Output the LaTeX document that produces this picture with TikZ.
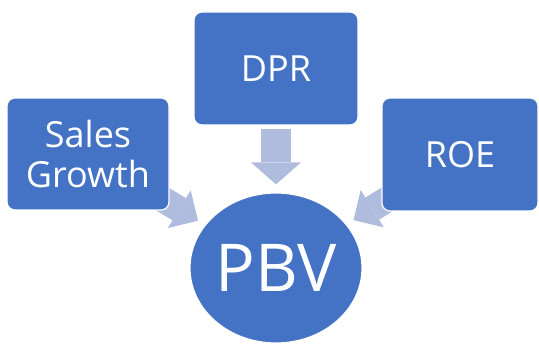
\documentclass[tikz,border=0pt]{standalone}
\usepackage{fontspec}
\setmainfont{Open Sans}
\usetikzlibrary{arrows.meta,shapes,backgrounds}
\definecolor{boxblue}{RGB}{68,114,196}
\definecolor{arrowblue}{RGB}{176,188,222}

\begin{document}
\begin{tikzpicture}[x=1pt,y=-1pt,
        factor/.style={rectangle, rounded corners=8pt, fill=boxblue, draw=white, line width=1.2pt,
            text=white, align=center, inner sep=0pt, font=\fontsize{36}{40}\selectfont},
        result/.style={ellipse, fill=boxblue, draw=white, line width=1.2pt,
            text=white, inner sep=0pt, font=\fontsize{66}{70}\selectfont},
        bigarrow/.style={draw=arrowblue, line width=30pt, -{Triangle[width=50pt,length=22pt,line width=0pt]}},
        sidearrow/.style={draw=arrowblue, line width=26pt, -{Triangle[width=44pt,length=22pt,line width=0pt]}}]
            \useasboundingbox (0,0) rectangle (539,344);
            % Boxes:
            \node[factor, minimum width=164pt, minimum height=113pt] (dpr) at (276,68.5) {DPR};
            \node[factor, minimum width=162pt, minimum height=112pt] (sales) at (88,154) {Sales\\Growth};
            \node[factor, minimum width=156pt, minimum height=113pt] (roe) at (460,154.5) {ROE};
            \node[result, minimum width=172pt, minimum height=150pt] (pbv) at (276,268) {PBV};
            % Arrows:
            \begin{scope}[on background layer]
                \draw[bigarrow, shorten <=3pt, shorten >=8pt] (dpr) -- (pbv);
                \draw[sidearrow, shorten <=-14pt, shorten >=8pt] (sales) -- (pbv);
                \draw[sidearrow, shorten <=-14pt, shorten >=8pt] (roe) -- (pbv);
            \end{scope}
        \end{tikzpicture}
\end{document}
